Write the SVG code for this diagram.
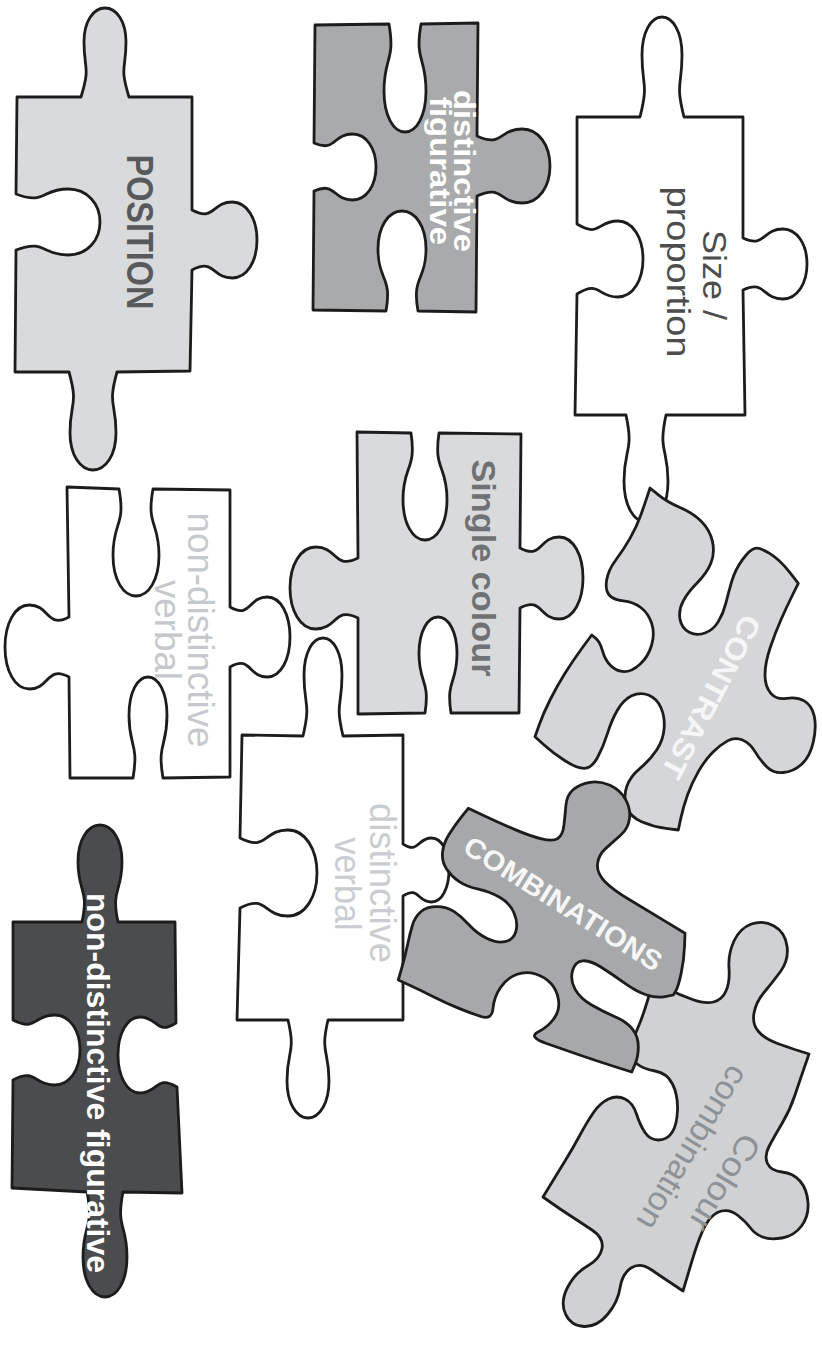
<svg xmlns="http://www.w3.org/2000/svg" width="822" height="1349" viewBox="0 0 822 1349">
<style>
.pc{stroke:#1c1c1c;stroke-width:2.8;stroke-linejoin:round}
.lt{fill:#d8dadc}
.md{fill:#a8aaac}
.wh{fill:#ffffff}
.dk{fill:#4a4c4e}
text{font-family:"Liberation Sans",Arial,sans-serif;text-anchor:middle}
.b{font-weight:bold}
</style>
<rect width="822" height="1349" fill="#ffffff"/>
<g id="position">
<path class="pc lt" d="M17,97 L81,97 C90.6,65.85 84,70.3 84,41.82 C84,21.35 93.45,8 105,8 C116.55,8 126,21.35 126,41.82 C126,70.3 119.4,65.85 129,97 L192,97 L192,210 C214.75,222 211.5,202 232.3,202 C247.25,202 257,219.1 257,240 C257,260.9 247.25,278 232.3,278 C211.5,278 214.75,258 192,270 L190,371 L117,372 C107.4,406.3 116,401.4 116,432.76 C116,455.3 105.65,470 93,470 C80.35,470 70,455.3 70,432.76 C70,401.4 78.6,406.3 69,372 L15,372 L16,250 C45.4,238.8 41.2,255 68.08,255 C87.4,255 100,240.15 100,222 C100,203.850 87.4,189 68.08,189 C41.2,189 45.4,205.2 16,194 Z"/>
<text class="b" transform="translate(127,232) rotate(90)" font-size="36" textLength="155" lengthAdjust="spacingAndGlyphs" fill="#57595b">POSITION</text>
</g>
<g id="distinctive-figurative">
<path class="pc md" d="M315,25 L389,24 C395.4,61.8 384,56.4 384,90.96 C384,115.8 393.45,132 405,132 C416.55,132 426,115.8 426,90.96 C426,56.4 414.6,61.8 421,24 L478,23 L477,136 C502.55,148 498.9,129 522.26,129 C539.05,129 550,145.65 550,166 C550,186.35 539.05,203 522.26,203 C498.9,203 502.55,184 477,196 L476,312 L418,311 C411.6,276 426,281 426,249 C426,226 415.2,211 402,211 C388.8,211 378,226 378,249 C378,281 392.4,276 386,311 L313,310 L314,191 C335.7,181.4 332.6,200 352.44,200 C366.7,200 376,185.15 376,167 C376,148.85 366.7,134 352.44,134 C332.6,134 335.7,152.6 314,143 Z"/>
<text class="b" transform="translate(454,171) rotate(90)" font-size="30" textLength="162" lengthAdjust="spacingAndGlyphs" fill="#ffffff">distinctive</text>
<text class="b" transform="translate(430,171) rotate(90)" font-size="30" textLength="148" lengthAdjust="spacingAndGlyphs" fill="#ffffff">figurative</text>
</g>
<g id="size-proportion">
<path class="pc wh" d="M577,117 L640,117 C648.8,82 642,87 642,55 C642,32 651,17 662,17 C673,17 682,32 682,55 C682,87 675.2,82 684,117 L743,117 L743,238 C765.4,248.4 762.2,229 782.68,229 C797.4,229 807,244.75 807,264 C807,283.25 797.4,299 782.68,299 C762.2,299 765.4,279.6 743,290 L745,415 L666,415 C658,452.45 668,447.1 668,481.34 C668,505.95 658.1,522 646,522 C633.9,522 624,505.95 624,481.34 C624,447.1 634,452.45 626,415 L575,415 L577,294 C600.1,280 596.8,297 617.92,297 C633.1,297 643,279.9 643,259 C643,238.1 633.1,221 617.92,221 C596.8,221 600.1,238 577,224 Z"/>
<text transform="translate(703,275) rotate(90)" font-size="34" textLength="90" lengthAdjust="spacingAndGlyphs" fill="#4d4d4d">Size /</text>
<text transform="translate(667,272) rotate(90)" font-size="34" textLength="171" lengthAdjust="spacingAndGlyphs" fill="#4d4d4d">proportion</text>
</g>
<g id="non-distinctive-verbal">
<path class="pc wh" d="M67,487 L119,489 C125.8,526.45 113,521.1 113,555.34 C113,579.95 123.35,596 136,596 C148.65,596 159,579.95 159,555.34 C159,521.1 146.2,526.45 153,489 L230,490 L230,607 C251,619 248,597 267.2,597 C281,597 290,615 290,637 C290,659 281,677 267.2,677 C248,677 251,655 230,667 L230,777 L163,778 C157,742.65 167,747.7 167,715.38 C167,692.15 158.45,677 148,677 C137.55,677 129,692.15 129,715.38 C129,747.7 139,742.65 133,778 L70,778 L69,677 C46.6,665 49.8,689 29.32,689 C14.6,689 5,670.1 5,647 C5,623.9 14.6,605 29.32,605 C49.8,605 46.6,629 69,617 Z"/>
<text transform="translate(188,630) rotate(90)" font-size="36" textLength="235" lengthAdjust="spacingAndGlyphs" fill="#c5c8cc">non-distinctive</text>
<text transform="translate(155,630) rotate(90)" font-size="36" textLength="100" lengthAdjust="spacingAndGlyphs" fill="#c5c8cc">verbal</text>
</g>
<g id="single-colour">
<path class="pc lt" d="M357,432 L411,433 C416.6,470.45 403,465.1 403,499.34 C403,523.95 412.9,540 425,540 C437.1,540 447,523.95 447,499.34 C447,465.1 433.4,470.45 439,433 L521,434 L520,548 C542.05,560 538.9,537 559.06,537 C573.55,537 583,555.45 583,578 C583,600.55 573.55,619 559.06,619 C538.9,619 542.05,596 520,608 L519,713 L451,713 C445.8,679.4 457,684.2 457,653.48 C457,631.4 448.45,617 438,617 C427.55,617 419,631.4 419,653.48 C419,684.2 430.2,679.4 425,713 L358,714 L358,618 C334.2,606 337.6,629 315.84,629 C300.2,629 290,610.55 290,588 C290,565.45 300.2,547 315.84,547 C337.6,547 334.2,570 358,558 Z"/>
<text class="b" transform="translate(472,568) rotate(90)" font-size="34" textLength="217" lengthAdjust="spacingAndGlyphs" fill="#6f7173">Single colour</text>
</g>
<g id="distinctive-verbal">
<path class="pc wh" d="M242,735 L303,736 C311,701.7 304,706.6 304,675.24 C304,652.7 312.55,638 323,638 C333.45,638 342,652.7 342,675.24 C342,706.6 335,701.7 343,736 L403,735 L403,844 C419.1,854.4 416.8,838 431.52,838 C442.1,838 449,852.4 449,870 C449,887.6 442.1,902 431.52,902 C416.8,902 419.1,885.6 403,896 L403,1020 L328,1020 C320,1054.3 329,1049.4 329,1080.76 C329,1103.3 319.55,1118 308,1118 C296.45,1118 287,1103.3 287,1080.76 C287,1049.4 296,1054.3 288,1020 L237,1020 L240,908 C266.95,894 263.1,916 287.74,916 C305.45,916 317,896.65 317,873 C317,849.35 305.45,830 287.74,830 C263.1,830 266.95,852 240,838 Z"/>
<text transform="translate(370,883) rotate(90)" font-size="36" textLength="160" lengthAdjust="spacingAndGlyphs" fill="#c9ccd0">distinctive</text>
<text transform="translate(335,884) rotate(90)" font-size="36" textLength="93" lengthAdjust="spacingAndGlyphs" fill="#c9ccd0">verbal</text>
</g>
<g id="non-distinctive-figurative">
<path class="pc dk" d="M13,922 L82,922 C89.2,888.05 78,892.9 78,861.86 C78,839.55 87.9,825 100,825 C112.1,825 122,839.55 122,861.86 C122,892.9 110.8,888.05 118,922 L175,922 L176,1023 C155.7,1035.8 158.6,1017 140.04,1017 C126.7,1017 118,1034.1 118,1055 C118,1075.9 126.7,1093 140.04,1093 C158.6,1093 155.7,1074.2 177,1087 L182,1193 L123,1192 C115.8,1228.75 127,1223.5 127,1257.1 C127,1281.25 117.1,1297 105,1297 C92.9,1297 83,1281.25 83,1257.1 C83,1223.5 94.2,1228.75 87,1192 L12,1188 L13,1080 C36.45,1068 33.1,1085 54.54,1085 C69.95,1085 80,1069.25 80,1050 C80,1030.75 69.95,1015 54.54,1015 C33.1,1015 36.45,1032 13,1020 Z"/>
<text class="b" transform="translate(87,1083) rotate(90)" font-size="32" textLength="380" lengthAdjust="spacingAndGlyphs" fill="#ffffff">non-distinctive figurative</text>
</g>
<g id="contrast">
<path class="pc" fill="#d4d6d8" d="M650,488 L658.35,494.85 Q666.7,501.7 680,507.5 Q693.3,513.3 701.65,521.65 Q710,530 712.5,541.65 Q715,553.3 710.85,563.3 Q706.7,573.3 697.5,582.5 Q688.3,591.7 683.3,600.85 Q678.3,610 680,619.15 Q681.7,628.3 689.2,632.15 Q696.7,636 705,633 Q713.3,630 718.3,621.65 Q723.3,613.3 725.8,603.3 Q728.3,593.3 731.65,581.65 Q735,570 742.5,559.65 Q750,549.3 755,548.3 Q760,547.3 770,553.65 Q780,560 789.15,571.65 L798.3,583.3 L792.5,595 Q786.7,606.7 780.85,620 Q775,633.3 770,648.3 Q765,663.3 765,675 Q765,686.7 770.85,693.35 Q776.7,700 786.7,698.35 Q796.7,696.7 804.2,700.85 Q811.7,705 814.2,715.85 Q816.7,726.7 813.35,741.7 Q810,756.7 801.65,764.2 Q793.3,771.7 783.3,772.5 Q773.3,773.3 766.65,766.65 Q760,760 755,751.65 Q750,743.3 742.5,740 Q735,736.7 727.5,740.85 Q720,745 712.5,752.5 Q705,760 698.35,771.65 Q691.7,783.3 687.5,795 Q683.3,806.7 680.8,818.35 L678.3,830 L665.8,828.35 Q653.3,826.7 641.65,821.7 Q630,816.7 626.65,806.7 Q623.3,796.7 626.65,786.7 Q630,776.7 640,768.35 Q650,760 656.65,750 Q663.3,740 664.15,728.35 Q665,716.7 660.85,707.5 Q656.7,698.3 648.35,695 Q640,691.7 631.65,695.85 Q623.3,700 617.5,710 Q611.7,720 607.5,733.35 Q603.3,746.7 597.5,757.5 Q591.7,768.3 584.2,768.3 Q576.7,768.3 565,760.8 Q553.3,753.3 544.15,745 L535,736.7 L539.15,725 Q543.3,713.3 550,700 Q556.7,686.7 565,673.35 Q573.3,660 582.5,647.5 L591.7,635 L595.85,638.35 Q600,641.7 602.5,650.85 Q605,660 610.85,665.85 Q616.7,671.7 624.2,671.7 Q631.7,671.7 640,664.2 Q648.3,656.7 651.65,645 Q655,633.3 651.65,623.3 Q648.3,613.3 640.8,607.5 Q633.3,601.7 623.3,600.85 Q613.3,600 609.15,595 Q605,590 606.65,580 Q608.3,570 615.8,560 Q623.3,550 630,538.35 Q636.7,526.7 640.85,515 Q645,503.3 647.5,495.65 Z"/>
<text class="b" transform="translate(702,692) rotate(117.6)" font-size="30" textLength="180" lengthAdjust="spacingAndGlyphs" fill="#f6f6f6">CONTRAST</text>
</g>
<g id="colour-combination" transform="translate(0,-18)">
<path class="pc" fill="#cfd1d3" d="M653,1000 L666.5,1006.5 Q680,1013 692.5,1017.5 Q705,1022 713.5,1020 Q722,1018 726,1009 Q730,1000 729,986 Q728,972 734,959 Q740,946 751.5,942 Q763,938 774,944 Q785,950 787,964 Q789,978 780.5,989.5 Q772,1001 764,1010.5 Q756,1020 754,1031 Q752,1042 758.5,1049.5 Q765,1057 777.5,1061.5 Q790,1066 799.5,1069 L809,1072 L804.5,1085 Q800,1098 795,1113 Q790,1128 782,1141.5 Q774,1155 769,1164.5 Q764,1174 767.5,1181.5 Q771,1189 782,1190 Q793,1191 800,1199 Q807,1207 808,1220.5 Q809,1234 801.5,1244 Q794,1254 782,1256 Q770,1258 762.5,1255 Q755,1252 750.5,1246 Q746,1240 738,1233.5 Q730,1227 721.5,1229 Q713,1231 706.5,1241.5 Q700,1252 691.5,1280.5 L683,1309 L672.5,1302 Q662,1295 651,1287.5 Q640,1280 631,1286 Q622,1292 620,1306 Q618,1320 607.5,1332.5 Q597,1345 584,1344.5 Q571,1344 565.5,1332 Q560,1320 567.5,1305.5 Q575,1291 587.5,1284 Q600,1277 602,1266.5 Q604,1256 592,1248 Q580,1240 570,1233.5 Q560,1227 551.5,1221 L543,1215 L550,1203.5 Q557,1192 565,1179 Q573,1166 580,1153 Q587,1140 593.5,1130.5 Q600,1121 608.5,1117 Q617,1113 625,1117 Q633,1121 636.5,1132 Q640,1143 645,1150.5 Q650,1158 658.5,1158 Q667,1158 672,1150.5 Q677,1143 677.5,1128 Q678,1113 672.5,1102 Q667,1091 655,1089 Q643,1087 636.5,1081.5 Q630,1076 631.5,1066.5 Q633,1057 638,1045.5 Q643,1034 648,1017 Z"/>
<text transform="translate(715,1195) rotate(121)" font-size="33" textLength="108" lengthAdjust="spacingAndGlyphs" fill="#8e9195">Colour</text>
<text transform="translate(683,1160) rotate(121)" font-size="33" textLength="185" lengthAdjust="spacingAndGlyphs" fill="#8e9195">combination</text>
</g>
<g id="combinations">
<path class="pc" fill="#a6a8aa" d="M468.3,808.3 L482.5,815 Q496.7,821.7 513.35,828.85 Q530,836 541.65,838.85 Q553.3,841.7 558,838.35 Q562.7,835 563.85,825.85 Q565,816.7 565.85,805.85 Q566.7,795 573.35,789.5 Q580,784 590,782.35 Q600,780.7 610,785.35 Q620,790 625.35,799.15 Q630.7,808.3 629.5,818.3 Q628.3,828.3 620.8,835 Q613.3,841.7 605.8,848.35 Q598.3,855 597.5,864.15 Q596.7,873.3 605,881.65 Q613.3,890 630,900 Q646.7,910 665.85,921.65 L685,933.3 L684.5,946.65 Q684,960 681.15,973.35 Q678.3,986.7 675.8,990.85 L673.3,995 L665,996.65 Q656.7,998.3 646.7,995 Q636.7,991.7 625,983.35 Q613.3,975 601.65,967.5 Q590,960 582.5,960.85 Q575,961.7 572.5,970.85 Q570,980 575,989.15 Q580,998.3 591.65,1005 Q603.3,1011.7 615,1016.7 Q626.7,1021.7 632.5,1029.2 Q638.3,1036.7 638.3,1046.7 Q638.3,1056.7 635,1064.35 L631.7,1072 L615.85,1067 Q600,1062 582.5,1056 Q565,1050 546.5,1043.5 Q528,1037 538,1032 Q548,1027 554,1018.5 Q560,1010 558.5,1000 Q557,990 551,983.5 Q545,977 535.5,974 Q526,971 516.5,974.5 Q507,978 500.5,987.5 Q494,997 493,1008.5 Q492,1020 481,1016.5 Q470,1013 458.35,1008.15 Q446.7,1003.3 433.35,996.65 Q420,990 409.15,985 L398.3,980 L401.65,968.35 Q405,956.7 407.5,945 Q410,933.3 412.5,925 Q415,916.7 420.85,911.7 Q426.7,906.7 436.7,906.7 Q446.7,906.7 454.2,911.7 Q461.7,916.7 469.2,925 Q476.7,933.3 486.7,938.3 Q496.7,943.3 505,941.65 Q513.3,940 515.8,931.65 Q518.3,923.3 514.15,913.3 Q510,903.3 500,897.5 Q490,891.7 478.35,889.2 Q466.7,886.7 459.2,881.7 Q451.7,876.7 446.7,869.2 Q441.7,861.7 442.5,852.5 Q443.3,843.3 449.15,834.15 Q455,825 461.65,816.65 Z"/>
<text class="b" transform="translate(558,912) rotate(32)" font-size="28" textLength="228" lengthAdjust="spacingAndGlyphs" fill="#f6f6f6">COMBINATIONS</text>
</g>
</svg>
